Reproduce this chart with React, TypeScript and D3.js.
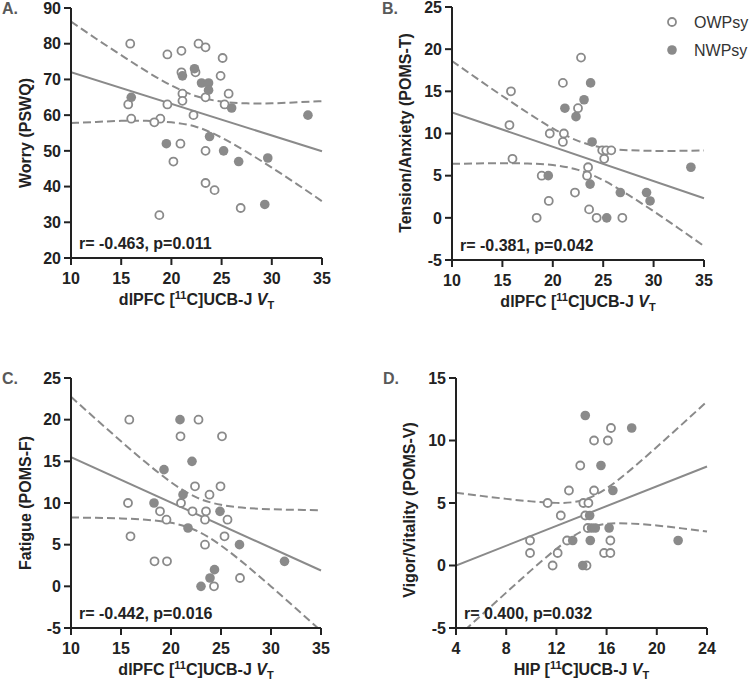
import React from 'react';
import * as d3 from 'd3';

const FONT = "'Liberation Sans', Arial, Helvetica, sans-serif";
const GREY = '#8a8a8a';
const AXIS = '#222';

// shared x ticks
const dlpfcTicks = [10, 15, 20, 25, 30, 35];
const hipTicks = [4, 8, 12, 16, 20, 24];
const ciXDlpfc = [10, 12.5, 15, 17.5, 20, 22.5, 25, 27.5, 30, 32.5, 35];
const ciXHip = [4, 6, 8, 10, 12, 14, 16, 18, 20, 22, 24];

// A. Worry (PSWQ)
const worryOpen: [number, number][] = [
  [15.9, 80], [19.6, 77], [21.0, 78], [22.7, 80], [23.4, 79], [25.1, 76],
  [21.0, 72], [22.4, 72], [24.9, 71], [21.1, 66], [23.4, 65], [25.7, 66],
  [15.7, 63], [21.1, 64], [19.6, 63], [25.3, 63], [16.0, 59], [18.9, 59],
  [18.3, 58], [22.2, 60], [20.9, 52], [23.4, 50], [20.2, 47], [23.4, 41],
  [24.3, 39], [26.9, 34], [18.8, 32],
];
const worryFilled: [number, number][] = [
  [21.1, 71], [22.3, 73], [23.0, 69], [23.7, 69], [23.7, 67], [16.0, 65],
  [26.0, 62], [33.6, 60], [23.8, 54], [19.5, 52], [25.2, 50], [26.7, 47],
  [29.6, 48], [29.3, 35],
];
const worryFit = [72.0, 49.9];
const worryUpper = [86.2, 81.4, 76.8, 72.3, 68.3, 65.3, 63.8, 63.3, 63.3, 63.6, 63.9];
const worryLower = [57.8, 58.1, 58.4, 58.4, 58.0, 56.7, 53.7, 49.7, 45.3, 40.7, 35.9];

// B. Tension/Anxiety (POMS-T)
const tensionOpen: [number, number][] = [
  [22.8, 19], [21.0, 16], [15.85, 15], [22.5, 13], [15.7, 11], [19.7, 10],
  [21.1, 10], [21.0, 9], [24.9, 8], [25.3, 8], [25.8, 8], [25.1, 7],
  [16.0, 7], [23.5, 6], [23.4, 5], [18.9, 5], [22.2, 3], [19.6, 2],
  [23.6, 1], [18.4, 0], [24.35, 0], [26.9, 0],
];
const tensionFilled: [number, number][] = [
  [23.75, 16], [23.1, 14], [21.2, 13], [22.3, 12], [23.9, 9], [33.7, 6],
  [19.55, 5], [23.7, 4], [26.7, 3], [29.3, 3], [29.65, 2], [25.35, 0],
];
const tensionFit = [12.5, 2.32];
const tensionUpper = [18.6, 16.5, 14.45, 12.46, 10.6, 9.13, 8.32, 8.02, 7.94, 7.94, 7.99];
const tensionLower = [6.4, 6.45, 6.47, 6.44, 6.26, 5.69, 4.46, 2.72, 0.78, -1.26, -3.35];

// C. Fatigue (POMS-F)
const fatigueOpen: [number, number][] = [
  [15.83, 20], [22.75, 20], [20.95, 18], [25.1, 18], [22.4, 12], [24.95, 12],
  [23.85, 11], [15.7, 10], [21.0, 10], [18.9, 9], [22.15, 9], [23.5, 9],
  [19.55, 8], [23.4, 8], [25.65, 8], [15.95, 6], [25.35, 6], [23.4, 5],
  [18.35, 3], [19.6, 3], [26.9, 1], [24.3, 0],
];
const fatigueFilled: [number, number][] = [
  [20.9, 20], [22.1, 15], [19.3, 14], [21.2, 11], [18.3, 10], [24.9, 9],
  [21.7, 7], [26.85, 5], [31.35, 3], [24.35, 2], [23.9, 1], [23.0, 0],
];
const fatigueFit = [15.5, 1.9];
const fatigueUpper = [22.74, 20.06, 17.41, 14.85, 12.5, 10.7, 9.78, 9.41, 9.25, 9.18, 9.14];
const fatigueLower = [8.26, 8.22, 8.15, 7.99, 7.62, 6.7, 4.9, 2.55, -0.01, -2.66, -5.34];

// D. Vigor/Vitality (POMS-V)
const vigorOpen: [number, number][] = [
  [16.35, 11], [15.0, 10], [16.1, 10], [13.9, 8], [13.0, 6], [15.0, 6],
  [11.3, 5], [14.15, 5], [14.55, 5], [12.35, 4], [14.3, 4], [14.5, 3],
  [9.9, 2], [12.85, 2], [16.3, 2], [9.9, 1], [12.1, 1], [15.8, 1],
  [16.3, 1], [11.7, 0], [14.4, 0],
];
const vigorFilled: [number, number][] = [
  [14.3, 12], [18.0, 11], [15.55, 8], [16.5, 6], [14.65, 4], [14.8, 3],
  [15.1, 3], [16.2, 3], [13.3, 2], [14.7, 2], [21.7, 2], [14.1, 0],
];
const vigorFit = [0.0, 7.92];
const vigorUpper = [5.82, 5.57, 5.33, 5.13, 5.01, 5.2, 6.17, 7.73, 9.48, 11.29, 13.12];
const vigorLower = [-5.82, -3.99, -2.17, -0.37, 1.33, 2.72, 3.33, 3.35, 3.2, 2.97, 2.72];

const panels = [
  {
    id: 'a', tag: 'A.', tagX: 2, tagY: 14,
    left: 71, top: 8, width: 251, height: 250,
    xDomain: [10, 35], xTicks: dlpfcTicks, yDomain: [20, 90], yTicks: d3.range(20, 91, 10),
    yTitle: 'Worry (PSWQ)', yTitleX: 25, yTitleY: 133, region: 'dlPFC',
    open: worryOpen, filled: worryFilled, fit: worryFit,
    ciX: ciXDlpfc, upper: worryUpper, lower: worryLower, stat: 'r= -0.463, p=0.011',
  },
  {
    id: 'b', tag: 'B.', tagX: 382, tagY: 14,
    left: 452, top: 7, width: 252, height: 253,
    xDomain: [10, 35], xTicks: dlpfcTicks, yDomain: [-5, 25], yTicks: d3.range(-5, 26, 5),
    yTitle: 'Tension/Anxiety (POMS-T)', yTitleX: 405, yTitleY: 133, region: 'dlPFC',
    open: tensionOpen, filled: tensionFilled, fit: tensionFit,
    ciX: ciXDlpfc, upper: tensionUpper, lower: tensionLower, stat: 'r= -0.381, p=0.042',
  },
  {
    id: 'c', tag: 'C.', tagX: 2, tagY: 384,
    left: 71, top: 378, width: 250, height: 250,
    xDomain: [10, 35], xTicks: dlpfcTicks, yDomain: [-5, 25], yTicks: d3.range(-5, 26, 5),
    yTitle: 'Fatigue (POMS-F)', yTitleX: 25, yTitleY: 503, region: 'dlPFC',
    open: fatigueOpen, filled: fatigueFilled, fit: fatigueFit,
    ciX: ciXDlpfc, upper: fatigueUpper, lower: fatigueLower, stat: 'r= -0.442, p=0.016',
  },
  {
    id: 'd', tag: 'D.', tagX: 383, tagY: 384,
    left: 456, top: 378, width: 251, height: 250,
    xDomain: [4, 24], xTicks: hipTicks, yDomain: [-5, 15], yTicks: d3.range(-5, 16, 5),
    yTitle: 'Vigor/Vitality (POMS-V)', yTitleX: 409, yTitleY: 510, region: 'HIP',
    open: vigorOpen, filled: vigorFilled, fit: vigorFit,
    ciX: ciXHip, upper: vigorUpper, lower: vigorLower, stat: 'r= 0.400, p=0.032',
  },
];

function Panel({ p }: { p: any }) {
  const x = d3.scaleLinear().domain(p.xDomain).range([p.left, p.left + p.width]);
  const y = d3.scaleLinear().domain(p.yDomain).range([p.top + p.height, p.top]);
  const bottom = p.top + p.height;

  const curve = d3.line<[number, number]>()
    .x(d => x(d[0]))
    .y(d => y(d[1]))
    .curve(d3.curveNatural);
  const straight = d3.line<[number, number]>()
    .x(d => x(d[0]))
    .y(d => y(d[1]));

  const upperPts = p.ciX.map((v: number, i: number) => [v, p.upper[i]]);
  const lowerPts = p.ciX.map((v: number, i: number) => [v, p.lower[i]]);
  const fitPts = [[p.xDomain[0], p.fit[0]], [p.xDomain[1], p.fit[1]]];

  return (
    <g>
      <clipPath id={'clip-' + p.id}>
        <rect x={p.left} y={p.top} width={p.width + 2} height={p.height} />
      </clipPath>

      <text x={p.tagX} y={p.tagY} fontSize={16} fontWeight="bold" fill="#595959">{p.tag}</text>

      <g clipPath={`url(#clip-${p.id})`} fill="none" stroke={GREY} strokeWidth={2}>
        <path d={curve(upperPts) || ''} strokeDasharray="8,4" />
        <path d={curve(lowerPts) || ''} strokeDasharray="8,4" />
        <path d={straight(fitPts as any) || ''} />
      </g>

      {p.open.map((d: [number, number], i: number) => (
        <circle key={'o' + i} cx={x(d[0])} cy={y(d[1])} r={4} fill="white" stroke={GREY} strokeWidth={1.8} />
      ))}
      {p.filled.map((d: [number, number], i: number) => (
        <circle key={'f' + i} cx={x(d[0])} cy={y(d[1])} r={4.8} fill={GREY} />
      ))}

      {/* axes */}
      <g stroke={AXIS} strokeWidth={2}>
        <line x1={p.left} x2={p.left} y1={p.top} y2={bottom + 7} />
        <line x1={p.left - 7} x2={p.left + p.width} y1={bottom} y2={bottom} />
        {p.yTicks.map((t: number) => (
          <line key={'yt' + t} x1={p.left - 7} x2={p.left} y1={y(t)} y2={y(t)} />
        ))}
        {p.xTicks.map((t: number) => (
          <line key={'xt' + t} x1={x(t)} x2={x(t)} y1={bottom} y2={bottom + 7} />
        ))}
      </g>
      <g fontSize={16} fontWeight="bold" fill={AXIS}>
        {p.yTicks.map((t: number) => (
          <text key={'yl' + t} x={p.left - 10} y={y(t)} dy="0.36em" textAnchor="end">{t}</text>
        ))}
        {p.xTicks.map((t: number) => (
          <text key={'xl' + t} x={x(t)} y={bottom + 26} textAnchor="middle">{t}</text>
        ))}
        <text x={(p.left + p.left + p.width) / 2} y={bottom + 47} textAnchor="middle">
          {p.region + ' ['}
          <tspan dy={-6} fontSize={11}>11</tspan>
          <tspan dy={6}>C]UCB-J </tspan>
          <tspan fontStyle="italic">V</tspan>
          <tspan dy={4} fontSize={11}>T</tspan>
        </text>
        <text
          transform={`translate(${p.yTitleX},${p.yTitleY}) rotate(-90)`}
          textAnchor="middle"
          dy="0.36em"
        >
          {p.yTitle}
        </text>
        <text x={p.left + 8} y={bottom - 9}>{p.stat}</text>
      </g>
    </g>
  );
}

export default function App() {
  return (
    <svg
      width={750}
      height={682}
      style={{ position: 'absolute', left: 0, top: 0, background: 'white' }}
      fontFamily={FONT}
    >
      {panels.map(p => <Panel key={p.id} p={p} />)}

      {/* legend */}
      <circle cx={672} cy={22} r={4} fill="white" stroke={GREY} strokeWidth={1.8} />
      <circle cx={672} cy={50} r={4.8} fill={GREY} />
      <text x={694} y={22} dy="0.36em" fontSize={16} fill="#333">OWPsy</text>
      <text x={694} y={50} dy="0.36em" fontSize={16} fill="#333">NWPsy</text>
    </svg>
  );
}
